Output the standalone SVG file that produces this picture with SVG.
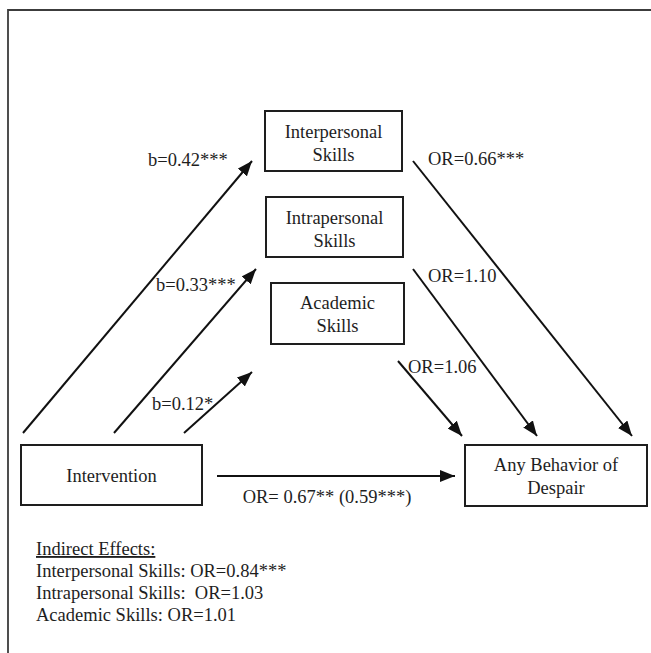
<svg xmlns="http://www.w3.org/2000/svg" width="651" height="653" viewBox="0 0 651 653">
<style>
.t{font-family:"Liberation Serif","Times New Roman",serif;font-size:18.5px;fill:#1e1e1e;}
.m{text-anchor:middle;}
.box{fill:#fff;stroke:#1e1e1e;stroke-width:2;}
.ln{stroke:#111;stroke-width:2;fill:none;marker-end:url(#ah);}
</style>
<defs>
<marker id="ah" markerUnits="userSpaceOnUse" markerWidth="16" markerHeight="12" refX="15" refY="6" orient="auto">
<path d="M0,0 L15,6 L0,12 Z" fill="#111"/>
</marker>
</defs>
<rect x="0" y="0" width="651" height="653" fill="#fff"/>
<path d="M8,665 L8,10 L665,10" fill="none" stroke="#3c3c3c" stroke-width="1.8"/>
<g id="interpersonal">
<rect class="box" x="265" y="111" width="137" height="60"/>
<text class="t m" x="333.5" y="138">Interpersonal</text>
<text class="t m" x="333.5" y="161">Skills</text>
</g>
<g id="intrapersonal">
<rect class="box" x="266" y="197" width="137" height="60"/>
<text class="t m" x="334.5" y="224">Intrapersonal</text>
<text class="t m" x="334.5" y="247">Skills</text>
</g>
<g id="academic">
<rect class="box" x="271" y="283" width="133" height="61"/>
<text class="t m" x="337.5" y="309">Academic</text>
<text class="t m" x="337.5" y="332">Skills</text>
</g>
<g id="intervention">
<rect class="box" x="21" y="445" width="181" height="60"/>
<text class="t m" x="111.5" y="482">Intervention</text>
</g>
<g id="despair">
<rect class="box" x="465" y="445" width="182" height="61"/>
<text class="t m" x="556" y="471">Any Behavior of</text>
<text class="t m" x="556" y="494">Despair</text>
</g>
<g id="connectors">
<line class="ln" x1="23" y1="433" x2="252" y2="161"/>
<line class="ln" x1="114" y1="433" x2="256" y2="269"/>
<line class="ln" x1="184" y1="433" x2="252" y2="372"/>
<line class="ln" x1="413" y1="161" x2="632" y2="436"/>
<line class="ln" x1="413" y1="269" x2="537" y2="436"/>
<line class="ln" x1="398" y1="361" x2="462" y2="436"/>
<line class="ln" x1="217" y1="476" x2="455" y2="476"/>
</g>
<g id="labels">
<text class="t" x="148" y="166">b=0.42***</text>
<text class="t" x="156" y="291">b=0.33***</text>
<text class="t" x="152" y="410">b=0.12*</text>
<text class="t" x="428" y="165">OR=0.66***</text>
<text class="t" x="428" y="282">OR=1.10</text>
<text class="t" x="408" y="373">OR=1.06</text>
<text class="t m" x="327" y="503">OR= 0.67** (0.59***)</text>
</g>
<g id="indirect">
<text class="t" x="36" y="555" text-decoration="underline">Indirect Effects:</text>
<text class="t" x="36" y="577">Interpersonal Skills: OR=0.84***</text>
<text class="t" x="36" y="599" xml:space="preserve">Intrapersonal Skills:  OR=1.03</text>
<text class="t" x="36" y="621">Academic Skills: OR=1.01</text>
</g>
</svg>
